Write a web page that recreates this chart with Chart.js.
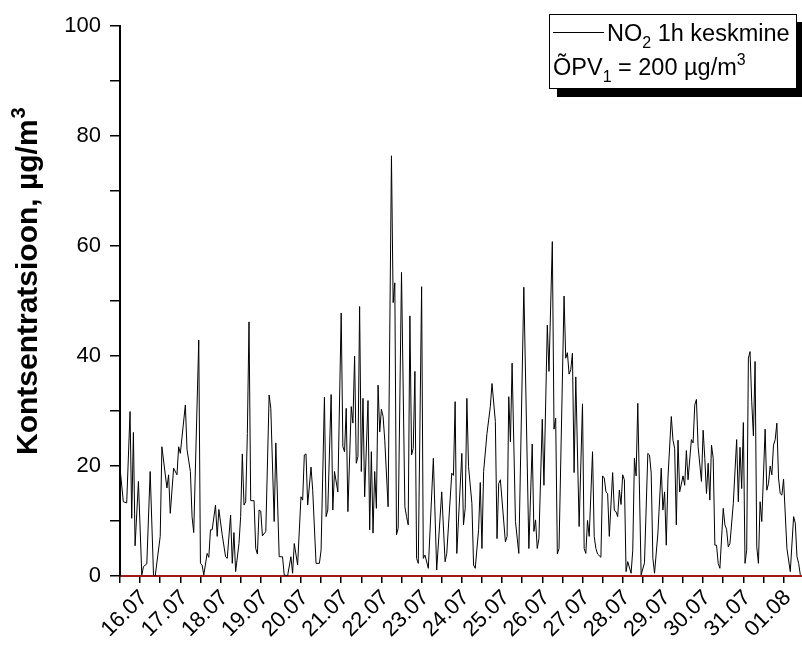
<!DOCTYPE html>
<html>
<head>
<meta charset="utf-8">
<script src="https://cdn.jsdelivr.net/npm/chart.js@4/dist/chart.umd.min.js"></script>
<style>
  body { margin: 0; background: #fff; }
  canvas { display: block; }
</style>
</head>
<body>
<canvas id="myChart" width="802" height="645"></canvas>
<script>
// hours since the start of the record (16.07, hourly NO2 values)
var hours = [
  0,2,4,6,7,8,9,11,13,14,16,18,20,21,24,25,28,29,30,32,34,35,36,39,40,42,43,44,47,
  48,49,50,52,53,54,55,57,58,59,61,63,64,66,67,68,69,71,72,73,74,75,76,77,78,80,81,82,83,84,85,87,89,90,92,93,95,97,98,
  100,102,103,104,106,108,109,110,111,112,114,115,117,119,120,122,123,124,126,127,128,130,132,133,134,135,136,138,139,140,141,142,143,144,145,146,148,149,
  150,151,152,153,154,155,156,157,158,160,162,163,164,165,166,168,170,171,172,173,174,175,176,177,178,180,181,182,184,187,189,192,194,195,198,199,
  200,201,204,205,206,207,208,210,211,212,214,215,216,217,219,221,222,224,225,226,227,230,231,232,233,234,236,238,241,244,246,247,248,249,
  250,252,253,255,256,258,259,260,261,262,265,266,267,268,269,270,271,272,274,276,277,278,279,280,282,283,284,285,287,288,289,290,291,292,294,295,296,297,298,299,
  300,301,302,303,305,306,307,308,309,311,313,315,316,317,318,319,321,323,324,325,326,327,329,330,331,332,333,334,336,337,338,339,341,342,343,344,345,347,348,349,
  350,351,352,353,354,355,356,357,358,360,361,362,363,364,366,368,369,370,371,372,373,374,375,376,377,378,379,380,381,382,383,385,386,387,388,389,390,391,392,393,394,395,396,398,400,402,403,404,405,406
];
var no2 = [
  19.6,13.5,13.3,29.9,10.5,26.1,5.5,17.2,0.2,1.7,2.2,19,0.2,0,7.2,23.5,16,18.4,11.4,19.6,18.4,23.5,22.3,31.1,23,19,10.8,7.9,42.9,
  2.3,2.0,0.2,4.1,3.4,8.4,8.4,12.9,7.2,12.1,7.5,3.5,3.2,11.1,2.3,7.9,0.8,5.9,10.8,22.2,12.9,13.5,25.9,46.2,13.7,13.7,5.0,4.0,12,11.8,7.3,8.1,32.9,30.5,9.9,24.2,3.5,3.5,0.2,
  0,3.5,0.5,5.9,2.0,14.4,13.8,22,22.2,12.9,19.8,15.6,2.3,2.3,4.7,32.5,10.8,12,33,12,19,15.3,47.8,23.5,22.6,30.5,11.7,30.8,27.8,40,20.5,21.7,49,19,32.3,14.4,31.9,8.4,
  22.6,7.8,19,12.3,34.7,26.2,30.3,29,24.7,12.6,76.4,49.7,53.3,7.5,8.7,55.2,12.6,10.8,9.3,47.3,22,23.2,37.2,3.2,2.3,52.6,3.2,3.8,1.4,21.4,1.1,15.3,2.6,4.1,18.7,18.3,
  31.7,4.1,22.3,9.3,12.3,32.3,19.9,13.2,2.0,1.4,8.4,17,5,19,25.9,30.8,35,28.1,6.8,16.8,17.5,6.2,7.2,32.6,24.4,38.7,9.9,4.1,52.5,5,24,8.1,10.2,5,
  6.8,28.5,16.5,45.6,37.2,60.8,26.7,28.7,4.0,5.0,50.9,39.6,40.6,36.7,37.5,40.5,18.8,36.2,9,31.3,5,4.1,10.1,7.2,22.6,7.2,5,4,3.4,18.2,17.8,15.3,15,7.2,18.8,11.9,11.7,10.8,15.6,13,
  18.4,17.5,0.8,2.6,0.5,4.7,21.4,18.2,31.4,0.2,2.4,22.3,22,18.7,3.2,0.5,7.8,19.6,12,15.3,5.6,17.8,29,24.7,23.2,9.3,24.7,15.3,18.2,16.5,22.8,17.5,24.8,24.2,31.1,32.1,23.5,17.2,26.5,21.4,
  15,20.5,13.8,23.8,21.4,5.6,5.6,2.3,1.4,12.3,9.3,8.5,5.3,5.9,13.2,24.8,13.5,23.4,15.9,27.9,2.3,4.7,39.6,40.8,31.7,25.5,39,5.3,2.3,13.5,9.9,26.7,15.6,16.8,20,18.4,23.8,24.8,27.8,17.8,15,14.7,17.6,5,0.8,10.8,9.6,3.5,2.3,0.2
];
// day labels, one per 24 h starting at hour 12
var dayLabels = ['16.07','17.07','18.07','19.07','20.07','21.07','22.07','23.07','24.07',
  '25.07','26.07','27.07','28.07','29.07','30.07','31.07','01.08'];
var yTicks = [0, 20, 40, 60, 80, 100];

var points = hours.map(function (h, i) { return {x: h, y: no2[i]}; });
var font = "'Liberation Sans', Arial, sans-serif";

// text with sub/superscript pieces
function drawParts(c, parts, x, y, size) {
  parts.forEach(function (p) {
    var s = p[1] ? size * 0.68 : size;
    var dy = p[1] === 'sub' ? size * 0.3 : (p[1] === 'sup' ? -size * 0.42 : 0);
    c.font = s + 'px ' + font;
    c.fillText(p[0], x, y + dy);
    x += c.measureText(p[0]).width;
  });
}

// Origin style legend box with shadow + y axis title
var extras = {
  id: 'extras',
  afterDraw: function (chart) {
    var c = chart.ctx;
    c.save();
    c.fillStyle = '#000';
    c.fillRect(557, 22, 245, 75);
    c.fillStyle = '#fff';
    c.fillRect(549, 14, 248, 75);
    c.strokeStyle = '#000';
    c.lineWidth = 1;
    c.strokeRect(549.5, 14.5, 247, 74);
    c.beginPath();
    c.moveTo(553, 32.5);
    c.lineTo(604, 32.5);
    c.stroke();
    c.fillStyle = '#000';
    c.textBaseline = 'alphabetic';
    drawParts(c, [['NO'], ['2', 'sub'], [' 1h keskmine']], 607, 41, 23.5);
    drawParts(c, [['ÕPV'], ['1', 'sub'], [' = 200 µg/m'], ['3', 'sup']], 553, 75, 23.5);

    c.translate(37, 455);
    c.rotate(-Math.PI / 2);
    c.font = 'bold 30px ' + font;
    drawTitle(c);
    c.restore();
  }
};
function drawTitle(c) {
  c.textAlign = 'left';
  c.font = 'bold 30px ' + font;
  c.fillText('Kontsentratsioon, µg/m', 0, 0);
  var w = c.measureText('Kontsentratsioon, µg/m').width;
  c.font = 'bold 20px ' + font;
  c.fillText('3', w + 1, -12);
}

var ctx = document.getElementById('myChart').getContext('2d');
var chart = new Chart(ctx, {
  type: 'line',
  data: {
    datasets: [{
      label: 'NO2 1h keskmine',
      data: points,
      borderColor: '#000',
      borderWidth: 1,
      pointRadius: 0,
      tension: 0,
      fill: false
    }]
  },
  options: {
    responsive: false,
    animation: false,
    devicePixelRatio: 1,
    layout: { padding: { top: 26, right: 0, left: 0, bottom: 0 } },
    plugins: { legend: { display: false }, tooltip: { enabled: false } },
    scales: {
      x: {
        type: 'linear',
        min: 0,
        max: 407,
        border: { color: '#a01818', width: 2 },
        grid: { drawOnChartArea: false, color: '#000', tickLength: 7, lineWidth: 1.5 },
        ticks: {
          stepSize: 12,
          includeBounds: false,
          autoSkip: false,
          minRotation: 45,
          maxRotation: 45,
          padding: 2,
          labelOffset: 4,
          color: '#000',
          font: { family: font, size: 22 },
          callback: function (v) {
            if ((v - 12) % 24 === 0) return dayLabels[(v - 12) / 24];
            return '';
          }
        },
        afterFit: function (s) { s.height = 69; s.paddingLeft = 0; s.paddingRight = 0; }
      },
      y: {
        min: 0,
        max: 100,
        border: { color: '#000', width: 2 },
        grid: { drawOnChartArea: false, color: '#000', tickLength: 10, lineWidth: 1.5 },
        ticks: {
          stepSize: 10,
          padding: 9,
          color: '#000',
          font: { family: font, size: 22 },
          callback: function (v) { return yTicks.indexOf(v) >= 0 ? v : ''; }
        },
        afterFit: function (s) { s.width = 120; }
      }
    }
  },
  plugins: [extras]
});
</script>
</body>
</html>
